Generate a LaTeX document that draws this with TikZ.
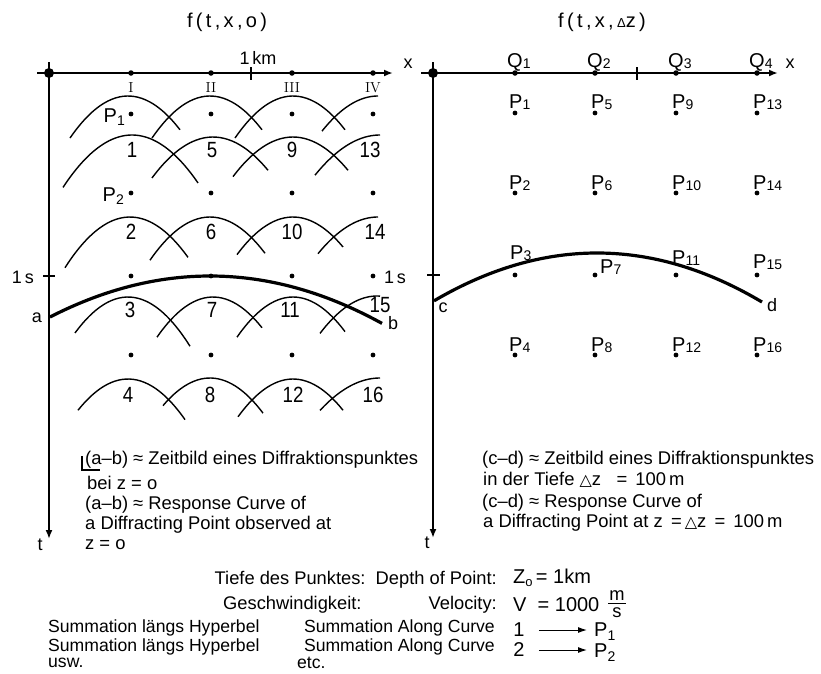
\documentclass[tikz,border=0pt]{standalone}
\usepackage{fontspec}
\newfontfamily\sff{Liberation Sans}
\newfontfamily\sfn[FakeStretch=0.85]{Liberation Sans}
\newfontfamily\dvs{DejaVu Sans}
\usetikzlibrary{arrows.meta}
\newcommand\sbs[1]{\raisebox{-0.08em}{\fontsize{14}{14}\selectfont #1}}
\newcommand\tri{{\dvs\fontsize{16}{16}\selectfont △}}
\newcommand\hyparc[5]{\draw[hyp] plot[domain=#3:#4, samples=30, smooth] (\x, {#2+#5*(\x-#1)*(\x-#1)});}
\tikzset{
  axis/.style={line width=1.8pt, -{Latex[length=9pt,width=7pt]}},
  hyp/.style={line width=1.4pt},
  resp/.style={line width=3.2pt},
  dotp/.style={circle, fill, inner sep=0pt, minimum size=4.8pt},
  axdot/.style={circle, fill, inner sep=0pt, minimum size=5.5pt},
  bigdot/.style={circle, fill, inner sep=0pt, minimum size=10pt},
  num/.style={font=\sfn\fontsize{22}{22}\selectfont, inner sep=0pt},
  lab/.style={font=\sff\fontsize{18}{18}\selectfont, inner sep=0pt},
  plab/.style={font=\sff\fontsize{20}{20}\selectfont, inner sep=0pt, anchor=base west},
  ttl/.style={font=\sff\fontsize{20}{20}\selectfont, inner sep=0pt},
  txt/.style={font=\sff\fontsize{18.4}{18.4}\selectfont, inner sep=0pt, anchor=west},
  btxt/.style={font=\sff\fontsize{18.3}{18.3}\selectfont, inner sep=0pt},
  stxt/.style={font=\sff\fontsize{17.6}{17.6}\selectfont, inner sep=0pt},
  rtxt/.style={font=\sff\fontsize{20}{20}\selectfont, inner sep=0pt},
  roman/.style={font=\rmfamily\fontsize{14.5}{14.5}\selectfont, inner sep=0pt},
  tick/.style={line width=1.2pt},
}
\begin{document}
\begin{tikzpicture}[x=1pt,y=-1pt]
\useasboundingbox (0,0) rectangle (821,673);

% ---------------- left panel ----------------
\node[ttl] (title1) at (227,22) {f\,(\,t\,,\,x\,,\,o\,)};
\coordinate (X1s) at (37,73); \coordinate (X1e) at (393,73);
\coordinate (T1s) at (49,62); \coordinate (T1e) at (49,539);
\draw[axis] (X1s) -- (X1e);
\draw[axis] (T1s) -- (T1e);
\node[bigdot] (O1) at (49,73) {};
\node[lab] (x1) at (408,64) {x};
\node[lab] (t1) at (40,545) {t};
\node[lab] (km) at (258,58) {1\,km};
\draw[tick] (251,67) -- (251,80);
\draw[tick] (43,276) -- (55,276);
\node[lab] (s1) at (23,277) {1\,s};

\foreach \xx/\rr [count=\i] in {131/I,211/II,292/III,373/IV}{
  \node[axdot] (ax\i) at (\xx,73) {};
  \node[roman] (rn\i) at (\xx,88) {\rr};
  \foreach \yy [count=\j] in {114,193,276,355}{
    \node[dotp] (L\i\j) at (\xx,\yy) {};
  }
}
\node[lab] (s2) at (395,277) {1\,s};

\node[plab, anchor=base east] (lp1) at (125,122) {P\raisebox{-0.18em}{\fontsize{14}{14}\selectfont 1}};
\node[plab, anchor=base east] (lp2) at (124,201) {P\raisebox{-0.18em}{\fontsize{14}{14}\selectfont 2}};

% hyperbola arcs
\hyparc{128}{96}{70}{180}{0.0125}
\hyparc{210}{96}{152}{262}{0.0125}
\hyparc{293}{96}{235}{345}{0.0125}
\hyparc{378}{96}{322}{378}{0.0112}

\hyparc{132}{135}{63}{198}{0.011}
\hyparc{213}{137}{152}{268}{0.011}
\hyparc{293}{137}{233}{348}{0.011}
\hyparc{380}{135}{315}{380}{0.0095}

\hyparc{130}{217}{65}{188}{0.012}
\hyparc{210}{217}{150}{265}{0.012}
\hyparc{293}{217}{237}{343}{0.012}
\hyparc{378}{217}{318}{378}{0.0102}

\hyparc{128}{297}{75}{190}{0.0128}
\hyparc{213}{297}{157}{262}{0.0128}
\hyparc{293}{297}{237}{345}{0.0128}
\hyparc{377}{296}{320}{380}{0.0115}

\hyparc{128}{379}{78}{185}{0.0125}
\hyparc{210}{378}{163}{263}{0.0125}
\hyparc{293}{379}{238}{343}{0.0125}
\hyparc{380}{378}{320}{380}{0.009}

% numbers
\foreach \xx/\n in {132/1,212/5,292/9,370/13}{\node[num] at (\xx,150) {\n};}
\foreach \xx/\n in {131/2,211/6,292/10,375/14}{\node[num] at (\xx,232) {\n};}
\foreach \xx/\n in {130/3,212/7,290/11}{\node[num] at (\xx,310) {\n};}
\node[num] (n15) at (380,305) {15};
\foreach \xx/\n in {128/4,210/8,293/12,373/16}{\node[num] at (\xx,395) {\n};}

% response curve a-b
\draw[resp] plot[domain=50:382, samples=60, smooth] (\x, {276+0.0016*(\x-210)*(\x-210)});
\node[lab] (la) at (37,318) {a};
\node[lab] (lb) at (393,323) {b};

% legend left
\draw[line width=2pt] (82,456) -- (82,470) -- (100,470);
\node[txt] (l1) at (85,460) {(a–b) ≈ Zeitbild eines Diffraktionspunktes};
\node[txt] (l2) at (87,483) {bei z = o};
\node[txt] (l3) at (85,505) {(a–b) ≈ Response Curve of};
\node[txt] (l4) at (85,525) {a Diffracting Point observed at};
\node[txt] (l5) at (85,545) {z = o};

% ---------------- right panel ----------------
\node[ttl] (title2) at (602,22) {f\,(\,t\,,\,x\,,\,{\fontsize{13}{13}\selectfont Δ}z\,)};
\coordinate (X2s) at (421,73); \coordinate (X2e) at (778,73);
\coordinate (T2s) at (433,62); \coordinate (T2e) at (433,538);
\draw[axis] (X2s) -- (X2e);
\draw[axis] (T2s) -- (T2e);
\node[bigdot] (O2) at (433,73) {};
\node[lab] (x2) at (790,64) {x};
\node[lab] (t2) at (427,543) {t};
\draw[tick] (637,67) -- (637,80);
\draw[tick] (427,275) -- (440,275);

\foreach \xx/\q [count=\i] in {515/1,595/2,676/3,757/4}{
  \node[axdot] (qd\i) at (\xx,73) {};
  \node[plab] (q\i) at (\xx-8,67) {Q\sbs{\q}};
  \foreach \yy [count=\j] in {113,193,275,355}{
    \node[dotp] (R\i\j) at (\xx,\yy) {};
  }
}
% P labels right
\foreach \xx/\n in {509/1,591/5,672/9,753/13}{\node[plab] at (\xx,108) {P\sbs{\n}};}
\foreach \xx/\n in {509/2,591/6,672/10,753/14}{\node[plab] at (\xx,189) {P\sbs{\n}};}
\node[plab] (p3) at (510,259) {P\sbs{3}};
\node[plab] (p7) at (600,273) {P\sbs{7}};
\node[plab] (p11) at (672,264) {P\sbs{11}};
\node[plab] (p15) at (753,268) {P\sbs{15}};
\foreach \xx/\n in {509/4,591/8,672/12,753/16}{\node[plab] at (\xx,351) {P\sbs{\n}};}

% response curve c-d
\draw[resp] plot[domain=434:762, samples=60, smooth] (\x, {253+0.0018*(\x-597)*(\x-597)});
\node[lab] (lc) at (443,308) {c};
\node[lab] (ld) at (772,305) {d};

% legend right
\node[txt] (r1) at (482,460) {(c–d) ≈ Zeitbild eines Diffraktionspunktes};
\node[txt] (r2) at (483,480) {in der Tiefe \tri z\ \ \ =\ \,100\,m};
\node[txt] (r3) at (482,503) {(c–d) ≈ Response Curve of};
\node[txt] (r4) at (483,523) {a Diffracting Point at z\ \,=\,\tri z\ \,=\ \,100\,m};

% ---------------- bottom block ----------------
\node[btxt, anchor=east] (b1) at (497,580) {Tiefe des Punktes:\ \ Depth of Point:};
\node[btxt, anchor=west] (b2) at (223,605) {Geschwindigkeit:};
\node[btxt, anchor=east] (b3) at (497,605) {Velocity:};
\node[stxt, anchor=west] (b4) at (48,628) {Summation längs Hyperbel};
\node[stxt, anchor=west] (b5) at (48,647) {Summation längs Hyperbel};
\node[stxt, anchor=west] (b6) at (48,663) {usw.};
\node[stxt, anchor=east] (b7) at (495,628) {Summation Along Curve};
\node[stxt, anchor=east] (b8) at (495,647) {Summation Along Curve};
\node[stxt, anchor=west] (b9) at (297,663) {etc.};

\node[rtxt, anchor=west] (z0) at (513,578) {Z\raisebox{-0.15em}{\fontsize{13}{13}\selectfont o}\,= 1km};
\node[rtxt, anchor=west] (v0) at (513,605) {V\ \ =\ 1000};
\node[btxt] (fm) at (617,596) {m};
\node[btxt] (fs) at (617,613) {s};
\draw[line width=0.9pt] ([xshift=-1pt,yshift=-2pt]fm.south west) -- ([xshift=1pt,yshift=-2pt]fm.south east);

\node[rtxt] (n1) at (519,630) {1};
\node[rtxt, anchor=west] (pp1) at (594,632) {P\raisebox{-0.2em}{\fontsize{14}{14}\selectfont 1}};
\node[rtxt] (n2) at (519,650) {2};
\node[rtxt, anchor=west] (pp2) at (594,653) {P\raisebox{-0.2em}{\fontsize{14}{14}\selectfont 2}};
\draw[line width=1pt, -{Latex[length=9pt,width=6pt]}, shorten <=14pt, shorten >=7pt] (n1) -- (pp1.west |- n1);
\draw[line width=1pt, -{Latex[length=9pt,width=6pt]}, shorten <=14pt, shorten >=7pt] (n2) -- (pp2.west |- n2);
\end{tikzpicture}
\end{document}
